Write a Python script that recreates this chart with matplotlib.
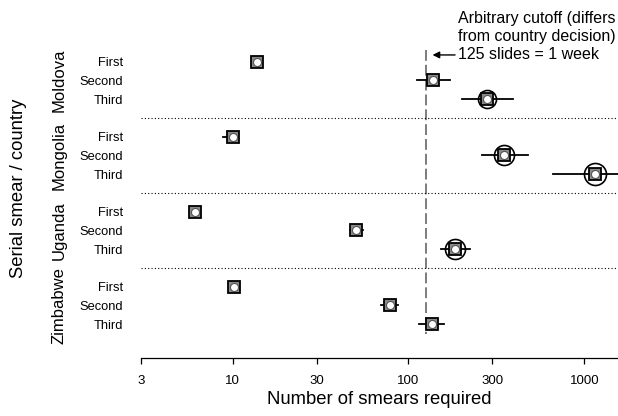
import numpy as np
import matplotlib
matplotlib.use('Agg')
import matplotlib.pyplot as plt
import matplotlib.transforms as mtransforms

plt.rcParams['font.family'] = ['Liberation Sans', 'DejaVu Sans']

# datos
countries = ['Moldova', 'Mongolia', 'Uganda', 'Zimbabwe']
smears = ['First', 'Second', 'Third']
# mediana y limites (por pais, por frotis)
med = [[13.8, 137, 279],
       [10.0, 347, 1150],
       [6.1, 50.5, 184],
       [10.2, 78, 136]]
low = [[13.8, 112, 201],
       [8.85, 261, 667],
       [6.1, 46.3, 153],
       [10.2, 69.6, 115]]
high = [[13.8, 173, 392],
        [10.4, 481, 2000],
        [6.1, 55, 224],
        [10.2, 87.7, 160]]
# circulo exterior (0 = sin circulo)
ring = [[0, 0, 18],
        [0, 20, 22],
        [0, 0, 20],
        [0, 0, 0]]
cutoff = 125
xticks = [3, 10, 30, 100, 300, 1000]

fig = plt.figure(figsize=(6.18, 4.16), dpi=100)
ax = fig.add_axes([140.7 / 618, 1 - 358 / 416, 1 - 140.7 / 618, 358 / 416])
ax.set_xscale('log')
ax.set_xlim(3, 1554)
ax.set_ylim(15.8, -3.29)

ypos = []
for g in range(len(countries)):
    for r in range(len(smears)):
        y = g * 4 + r
        ypos.append(y)
        m, lo, hi = med[g][r], low[g][r], high[g][r]
        ax.plot([lo, hi], [y, y], color='black', lw=1.3, zorder=2)
        if ring[g][r] > 0:
            ax.plot(m, y, marker='o', ms=ring[g][r] * 0.72, mfc='none', mec='black',
                    mew=1.2, zorder=3)
        ax.plot(m, y, marker='s', ms=8, mfc='#8a8a8a', mec='black', mew=1.3, zorder=4)
        ax.plot(m, y, marker='o', ms=5.8, mfc='white', mec='#555555', mew=0.8, zorder=5)
    if g < len(countries) - 1:
        ax.axhline(g * 4 + 3, color='black', ls=(0, (1, 2)), lw=0.8)

# linea de corte
ax.plot([cutoff, cutoff], [-0.6, 14.5], color='#666666', ls=(0, (6.5, 2.4)), lw=1.2, zorder=1)
ax.annotate('', xy=(137, -0.36), xytext=(184, -0.36),
            arrowprops=dict(arrowstyle='-|>', color='black', lw=1, mutation_scale=10,
                            shrinkA=0, shrinkB=0))
ax.text(190, -2.33, 'Arbitrary cutoff (differs', fontsize=11.5, va='center', ha='left')
ax.text(190, -1.36, 'from country decision)', fontsize=11.5, va='center', ha='left')
ax.text(190, -0.36, '125 slides = 1 week', fontsize=11.5, va='center', ha='left')

# ejes
for s in ['top', 'right', 'left']:
    ax.spines[s].set_visible(False)
ax.spines['bottom'].set_linewidth(0.9)
ax.set_xticks(xticks)
ax.set_xticklabels([str(t) for t in xticks])
ax.xaxis.set_minor_locator(matplotlib.ticker.NullLocator())
ax.tick_params(axis='x', length=4, width=0.9, labelsize=9.5, pad=8)
ax.set_yticks(ypos)
ax.set_yticklabels(smears * len(countries))
ax.tick_params(axis='y', length=0, labelsize=9.3, pad=13)

trans = mtransforms.blended_transform_factory(ax.transAxes, ax.transData)
for g, c in enumerate(countries):
    ax.text(-0.171, g * 4 + 1, c, rotation=90, ha='center', va='center',
            fontsize=12, transform=trans)
ax.text(-0.257, 6.74, 'Serial smear / country', rotation=90, ha='center', va='center',
        fontsize=13.3, transform=trans)
fig.text(379 / 618, 1 - 400 / 416, 'Number of smears required', ha='center',
         va='center', fontsize=13.3)

fig.savefig('out.png', dpi=100)
